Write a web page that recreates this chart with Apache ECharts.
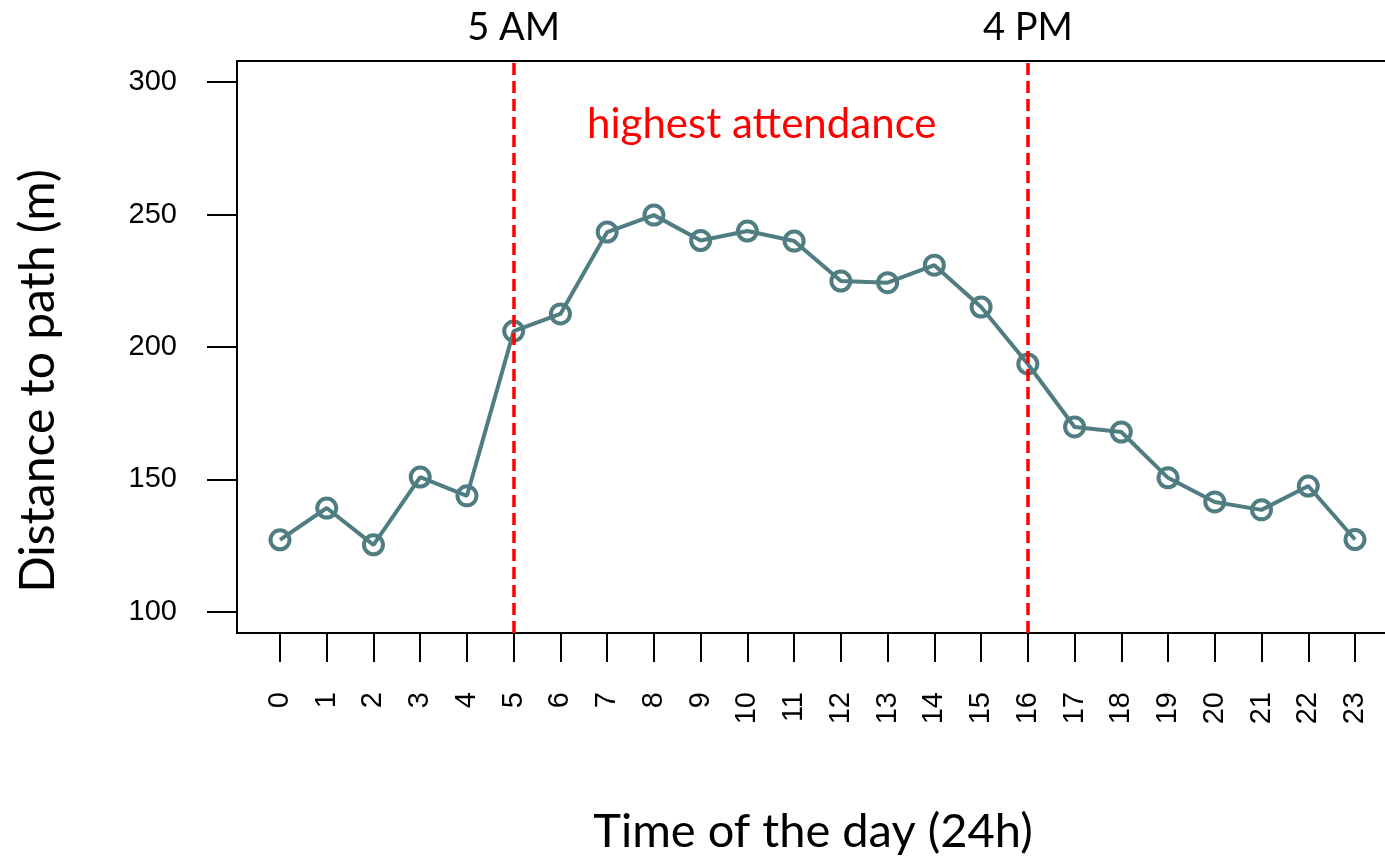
<!DOCTYPE html>
<html>
<head>
<meta charset="utf-8">
<script src="https://cdn.jsdelivr.net/npm/echarts@6/dist/echarts.min.js"></script>
<style>
html,body{margin:0;padding:0;background:#fff;}
#chart{width:1385px;height:859px;}
</style>
</head>
<body>
<div id="chart"></div>
<script>
var hours = [0,1,2,3,4,5,6,7,8,9,10,11,12,13,14,15,16,17,18,19,20,21,22,23];
var distance = [127.2,139.2,125.3,150.9,143.8,206,212.5,243.4,249.8,240.2,243.8,240,224.9,224.3,230.9,215.1,193.6,169.8,167.9,150.6,141.5,138.5,147.5,127.3];
var yTicks = [100,150,200,250,300];
var markHours = [5,16];
var markLabels = ['5 AM','4 PM'];
var bandLabel = 'highest attendance';

var chart = echarts.init(document.getElementById('chart'));
var titleFont = 'Lato, "Open Sans", sans-serif';
var tickFont = '"Liberation Sans", Arial, sans-serif';
var lineColor = '#4f7d81';

chart.setOption({
  animation: false,
  grid: {left: 237, top: 61, right: -13, bottom: 226, containLabel: false, outerBoundsMode: 'none',
    show: true, borderColor: '#000', borderWidth: 2, backgroundColor: 'transparent'},
  xAxis: {
    type: 'value', min: -0.92, max: 23.92,
    name: 'Time of the day (24h)', nameLocation: 'middle', nameGap: 175,
    nameTextStyle: {fontFamily: titleFont, fontSize: 47, color: '#000', padding: [0, 9, 0, 0]},
    axisLine: {show: true, onZero: false, lineStyle: {color: '#000', width: 2}},
    axisTick: {show: true, length: 29, customValues: hours, lineStyle: {color: '#000', width: 2}},
    axisLabel: {show: true, customValues: hours, rotate: 90, margin: 59, fontFamily: tickFont, fontSize: 29, color: '#000'},
    splitLine: {show: false}
  },
  yAxis: {
    type: 'value', min: 92, max: 308,
    name: 'Distance to path (m)', nameLocation: 'middle', nameGap: 174,
    nameTextStyle: {fontFamily: titleFont, fontSize: 48, color: '#000', padding: [0, 68, 0, 0]},
    axisLine: {show: true, onZero: false, lineStyle: {color: '#000', width: 2}},
    axisTick: {show: true, length: 30, customValues: yTicks, lineStyle: {color: '#000', width: 2}},
    axisLabel: {show: true, customValues: yTicks, margin: 60, fontFamily: tickFont, fontSize: 29, color: '#000'},
    splitLine: {show: false}
  },
  series: [{
    type: 'line',
    data: hours.map(function(h, i){ return [h, distance[i]]; }),
    symbol: 'circle', symbolSize: 19,
    lineStyle: {color: lineColor, width: 4},
    itemStyle: {color: 'rgba(0,0,0,0)', borderColor: lineColor, borderWidth: 4},
    markLine: {
      silent: true, symbol: 'none',
      lineStyle: {color: '#ff0000', width: 3.5, type: [12, 6]},
      label: {show: true, position: 'end', distance: 14, fontFamily: titleFont, fontSize: 38, color: '#000',
        formatter: function(p){ return markLabels[markHours.indexOf(p.value)]; }},
      data: markHours.map(function(h){ return {xAxis: h}; })
    },
    markArea: {
      silent: true,
      itemStyle: {color: 'rgba(0,0,0,0)'},
      label: {show: true, position: 'insideTop', distance: 42, offset: [-9, 0], fontFamily: titleFont, fontSize: 42, color: '#ff0000'},
      data: [[{xAxis: markHours[0], name: bandLabel}, {xAxis: markHours[1]}]]
    }
  }]
});
</script>
</body>
</html>
